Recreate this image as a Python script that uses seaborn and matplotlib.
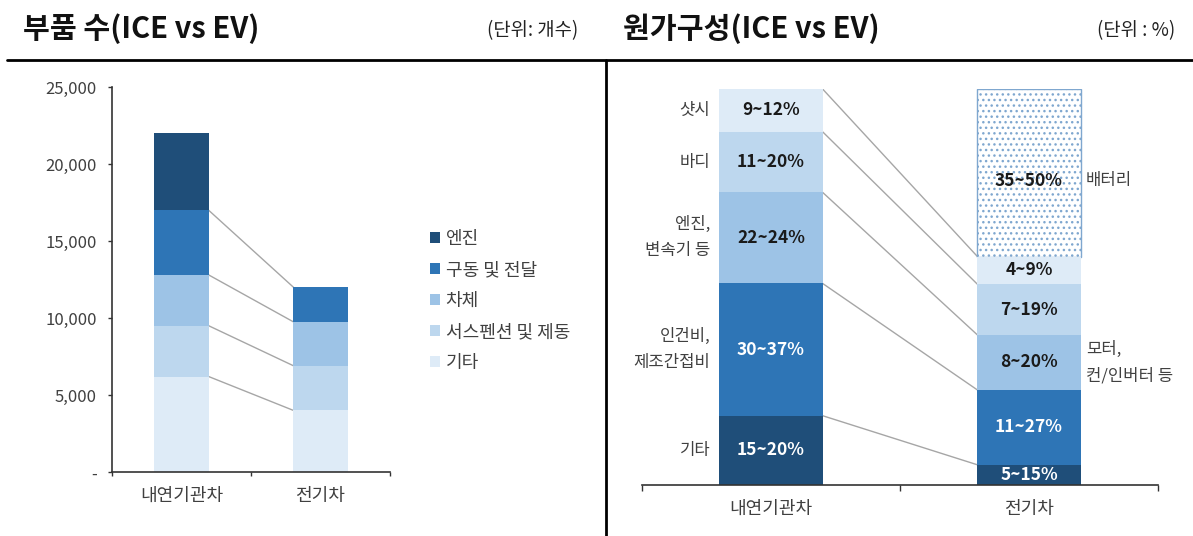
import matplotlib
matplotlib.use('Agg')
import matplotlib.pyplot as plt
from matplotlib.lines import Line2D
from matplotlib.patches import Patch
from matplotlib.ticker import FuncFormatter, FixedLocator
import seaborn as sns
import numpy as np
import pandas as pd

sns.set_theme(style='white')
plt.rcParams['font.family'] = ['Noto Sans CJK KR', 'DejaVu Sans']

# left chart: part count, stacked bottom -> top
cars = ['내연기관차', '전기차']
part_names = ['기타', '서스펜션 및 제동', '차체', '구동 및 전달', '엔진']
part_ice = [6200, 3300, 3300, 4200, 5000]
part_ev = [4000, 2900, 2850, 2250, 0]
part_colors = ['#DEEBF7', '#BDD7EE', '#9DC3E6', '#2E75B6', '#1F4E79']

# right chart: cost structure, stacked bottom -> top (share of bar height)
cost_ice_names = ['기타', '인건비,\n제조간접비', '엔진,\n변속기 등', '바디', '샷시']
cost_ice_labels = ['15~20%', '30~37%', '22~24%', '11~20%', '9~12%']
cost_ice = [17.5, 33.4, 23.0, 15.3, 10.8, 0]
cost_ev_labels = ['5~15%', '11~27%', '8~20%', '7~19%', '4~9%', '35~50%']
cost_ev = [5.1, 18.9, 13.9, 12.8, 7.0, 42.3]
cost_ev_names = {5: '배터리', 2: '모터,\n컨/인버터 등'}
cost_colors = ['#1F4E79', '#2E75B6', '#9DC3E6', '#BDD7EE', '#DEEBF7', '#FFFFFF']

grey_line = '#A6A6A6'
text_col = '#404040'

fig = plt.figure(figsize=(11.93, 5.36), dpi=100)
W, H = 1193, 536


def stacked(ax, ice, ev, colors, width):
    cum = pd.DataFrame({'car': np.repeat(cars, len(ice)),
                        'layer': list(range(len(ice))) * 2,
                        'top': np.concatenate([np.cumsum(ice), np.cumsum(ev)])})
    conts = []
    for k in range(len(ice) - 1, -1, -1):
        sns.barplot(data=cum[cum['layer'] == k], x='car', y='top', order=cars,
                    color=colors[k], saturation=1, width=width, linewidth=0,
                    errorbar=None, ax=ax)
        conts.append(ax.containers[-1])
    return np.cumsum(ice), np.cumsum(ev), conts[::-1]


# ---------------- left chart ----------------
ax1 = fig.add_axes([112 / W, 64 / H, 278 / W, 385 / H])
w1 = 0.39
ci, ce, _ = stacked(ax1, part_ice, part_ev, part_colors, w1)
for k in range(len(part_ice) - 1):
    ax1.plot([w1 / 2, 1 - w1 / 2], [ci[k], ce[k]], color=grey_line, lw=1, zorder=0.5)
ax1.set_xlim(-0.5, 1.5)
ax1.set_ylim(0, 25000)
ax1.set_yticks(range(0, 25001, 5000))
ax1.yaxis.set_major_formatter(FuncFormatter(lambda v, p: '-' if v == 0 else f'{v:,.0f}'))
ax1.set_xlabel('')
ax1.set_ylabel('')
ax1.xaxis.set_minor_locator(FixedLocator([-0.5, 0.5, 1.5]))
ax1.tick_params(axis='x', which='major', length=0, pad=11, labelsize=13, labelcolor=text_col)
ax1.tick_params(axis='x', which='minor', length=3, width=1, color='#333333', direction='out', bottom=True)
ax1.tick_params(axis='y', length=3, width=1, color='#333333', left=True, pad=8,
                labelsize=12, labelcolor=text_col)
for s in ['top', 'right']:
    ax1.spines[s].set_visible(False)
for s in ['left', 'bottom']:
    ax1.spines[s].set_color('#333333')
    ax1.spines[s].set_linewidth(1.2)

handles = [Patch(facecolor=part_colors[k], edgecolor='none') for k in range(len(part_names) - 1, -1, -1)]
labels = part_names[::-1]
fig.legend(handles, labels, loc='upper left', bbox_to_anchor=(414 / W, 1 - 214 / H),
           frameon=False, handlelength=0.55, handleheight=0.55, handletextpad=0.3,
           labelspacing=0.72, fontsize=13, labelcolor=text_col)

# ---------------- right chart ----------------
ax2 = fig.add_axes([642 / W, 51 / H, 516 / W, 396 / H])
w2 = 0.4
ri, re, conts = stacked(ax2, cost_ice, cost_ev, cost_colors, w2)
bat = conts[5][1]
bat.set_y(re[4])
bat.set_height(cost_ev[5])
bat.set_facecolor('white')
bat.set_edgecolor('#7FA7CF')
bat.set_linewidth(1)
bat.set_hatch('...')
conts[5][0].set_visible(False)

for k in range(len(cost_ice) - 1):
    ax2.plot([w2 / 2, 1 - w2 / 2], [ri[k], re[k]], color=grey_line, lw=1, zorder=0.5)

dark = {0, 1}
lo = 0
for k, lab in enumerate(cost_ice_labels):
    mid = lo + cost_ice[k] / 2
    ax2.text(0, mid, lab, ha='center', va='center', fontsize=12.5, fontweight='bold',
             color='white' if k in dark else '#1A1A1A')
    ax2.text(-w2 / 2 - 0.035, mid, cost_ice_names[k], ha='right', va='center',
             fontsize=12, color=text_col, linespacing=1.7)
    lo += cost_ice[k]
lo = 0
for k, lab in enumerate(cost_ev_labels):
    mid = lo + cost_ev[k] / 2
    if k == 5:
        mid -= 2
    ax2.text(1, mid, lab, ha='center', va='center', fontsize=12.5, fontweight='bold',
             color='white' if k in dark else '#1A1A1A')
    if k in cost_ev_names:
        ax2.text(1 + w2 / 2 + 0.02, mid, cost_ev_names[k], ha='left', va='center',
                 fontsize=12, color=text_col, linespacing=1.7)
    lo += cost_ev[k]

ax2.set_xlim(-0.5, 1.5)
ax2.set_ylim(0, 100)
ax2.set_yticks([])
ax2.set_xlabel('')
ax2.set_ylabel('')
ax2.xaxis.set_minor_locator(FixedLocator([-0.5, 0.5, 1.5]))
ax2.tick_params(axis='x', which='major', length=0, pad=11, labelsize=13, labelcolor=text_col)
ax2.tick_params(axis='x', which='minor', length=4, width=1, color='#333333', direction='out', bottom=True)
for s in ['top', 'right', 'left']:
    ax2.spines[s].set_visible(False)
ax2.spines['bottom'].set_color('#333333')
ax2.spines['bottom'].set_linewidth(1.2)

# ---------------- headers ----------------
fig.text(23 / W, 1 - 29 / H, '부품 수(ICE vs EV)', fontsize=21, fontweight='bold',
         ha='left', va='center', color='#111111')
fig.text(578 / W, 1 - 31 / H, '(단위: 개수)', fontsize=13.5, ha='right', va='center', color='#222222')
fig.text(623 / W, 1 - 29 / H, '원가구성(ICE vs EV)', fontsize=21, fontweight='bold',
         ha='left', va='center', color='#111111')
fig.text(1175 / W, 1 - 31 / H, '(단위 : %)', fontsize=13.5, ha='right', va='center', color='#222222')

fig.add_artist(Line2D([7 / W, 1], [1 - 60 / H, 1 - 60 / H], color='black', lw=2))
fig.add_artist(Line2D([606 / W, 606 / W], [0, 1 - 60 / H], color='black', lw=2))

fig.savefig('out.png', dpi=100, facecolor='white')
